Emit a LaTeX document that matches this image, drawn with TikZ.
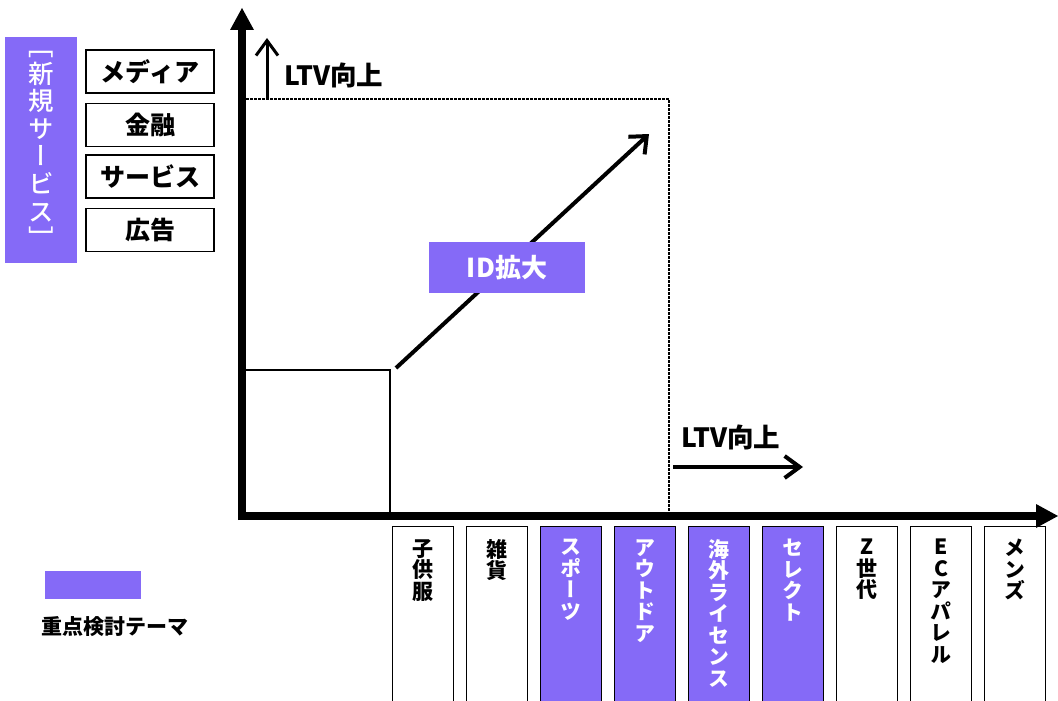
\documentclass[tikz,border=0pt]{standalone}
\usepackage{fontspec}
\setmainfont{Noto Sans CJK JP}
\newfontfamily\vjp[RawFeature=+vert]{Noto Sans CJK JP}
\newfontfamily\vjpmed[RawFeature=+vert,UprightFont=* Medium]{Noto Sans CJK JP}
\usetikzlibrary{arrows.meta,positioning}
\definecolor{theme}{RGB}{133,106,247}

\begin{document}
\begin{tikzpicture}[x=1pt,y=-1pt,
    axis/.style={line width=8pt,-{Triangle[length=22pt,width=24pt,line width=0pt]}},
    ltv/.style={-{Straight Barb[length=15pt,width=22pt]}},
    menu/.style={draw,line width=1.5pt,minimum width=128pt,minimum height=43pt,inner sep=0pt,font=\fontsize{25}{30}\selectfont\bfseries},
    col/.style={draw,line width=1.2pt,minimum width=61pt,minimum height=178pt,inner sep=0pt,anchor=north},
    colkey/.style={col,fill=theme},
    coltext/.style={align=center,inner sep=0pt,font=\vjp\fontsize{21}{21.5}\selectfont\bfseries},
    bigtext/.style={inner sep=0pt,font=\fontsize{26.5}{30}\selectfont\bfseries}]
    \useasboundingbox (0,0) rectangle (1058,701);

    \node[fill=theme,minimum width=72pt,minimum height=226pt,text=white,align=center,font=\vjpmed\fontsize{25.5}{27.6}\selectfont] (newbiz) at (41,150) {［\\新\\規\\サ\\ー\\ビ\\ス\\］};
    \node[menu] (media) at (150,71.5) {メディア};
    \node[menu] (finance) at (150,125) {金融};
    \node[menu] (service) at (150,176.5) {サービス};
    \node[menu] (ads) at (150,230) {広告};

    \node[fill=theme,minimum width=96pt,minimum height=28pt,inner sep=0pt] (key) at (93,585) {};
    \node[font=\fontsize{21}{24}\selectfont\bfseries] (keytext) at (115,627) {重点検討テーマ};

    \coordinate (dtl) at (246,99);
    \coordinate (dbr) at (669,512);
    \draw[line width=2.5pt,dash pattern=on 2.5pt off 1.5pt] (dtl) -| (dbr);

    \node[draw,line width=2pt,minimum width=147pt,minimum height=145pt,inner sep=0pt,anchor=south west] (base) at (242,516) {};

    \coordinate (idfrom) at (396,368);
    \coordinate (idto) at (649,134);
    \draw[line width=4pt,-{Straight Barb[length=14pt,width=24pt]}] (idfrom) to (idto);
    \node[fill=theme,minimum width=156pt,minimum height=51pt,inner sep=0pt,text=white,font=\fontsize{26}{30}\selectfont\bfseries] (idgrow) at (507,267.5) {ID拡大};

    \coordinate (upfrom) at (267,99);
    \coordinate (upto) at (267,38);
    \draw[ltv,line width=3pt] (upfrom) to (upto);
    \node[bigtext,anchor=west] (ltvtop) at (284,75) {LTV向上};

    \coordinate (rfrom) at (673,467);
    \coordinate (rto) at (803,467);
    \draw[ltv,line width=4pt] (rfrom) to (rto);
    \node[bigtext,anchor=west] (ltvright) at (681,437) {LTV向上};

    \coordinate (ybot) at (242,520);
    \coordinate (ytop) at (242,8);
    \coordinate (xbot) at (238,516);
    \coordinate (xend) at (1058,516);
    \draw[axis] (ybot) to (ytop);
    \draw[axis] (xbot) to (xend);

    \node[col] (kids) at (423,526) {};
    \node[col,right=11.8pt of kids] (goods) {};
    \node[colkey,right=11.8pt of goods] (sports) {};
    \node[colkey,right=11.8pt of sports] (outdoor) {};
    \node[colkey,right=11.8pt of outdoor] (license) {};
    \node[colkey,right=11.8pt of license] (select) {};
    \node[col,right=11.8pt of select] (genz) {};
    \node[col,right=11.8pt of genz] (ecwear) {};
    \node[col,right=11.8pt of ecwear] (mens) {};

    \node[coltext,below=13pt of kids.north] {子\\供\\服};
    \node[coltext,below=13pt of goods.north] {雑\\貨};
    \node[coltext,text=white,below=13pt of sports.north] {ス\\ポ\\ー\\ツ};
    \node[coltext,text=white,below=13pt of outdoor.north] {ア\\ウ\\ト\\ド\\ア};
    \node[coltext,text=white,below=13pt of license.north] {海\\外\\ラ\\イ\\セ\\ン\\ス};
    \node[coltext,text=white,below=13pt of select.north] {セ\\レ\\ク\\ト};
    \node[coltext,below=13pt of genz.north] {Z\\世\\代};
    \node[coltext,below=13pt of ecwear.north] {E\\C\\ア\\パ\\レ\\ル};
    \node[coltext,below=13pt of mens.north] {メ\\ン\\ズ};
  \end{tikzpicture}
\end{document}
